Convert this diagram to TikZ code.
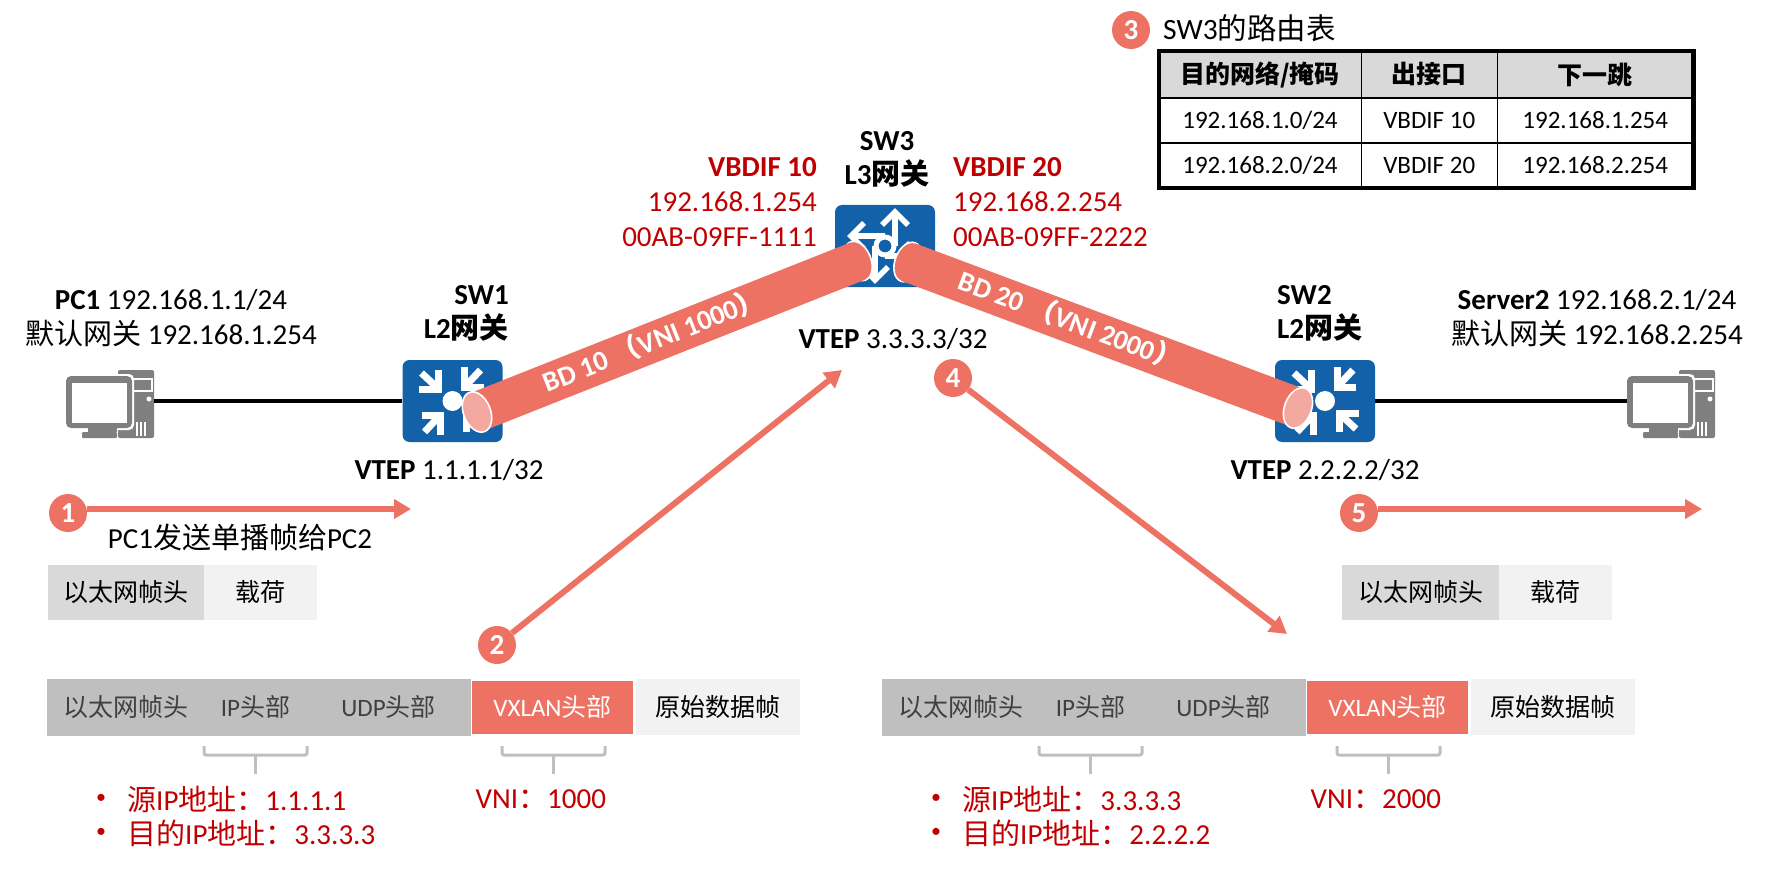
\documentclass[tikz,border=0pt]{standalone}
\usepackage{fontspec}
\setmainfont{Carlito}
\newfontfamily\cjk{Noto Sans CJK SC}
\usepackage{xcolor}
\usepackage{tikz}
\usetikzlibrary{arrows.meta, positioning, shapes.geometric}

\newcommand{\zh}[1]{{\cjk #1}}
\definecolor{salmon}{HTML}{ED7264}
\definecolor{pinkend}{HTML}{F4A9A0}
\definecolor{boxblue}{HTML}{1361A9}
\definecolor{darkred}{HTML}{C00000}
\definecolor{pcgray}{HTML}{7F7F7F}

\tikzset{
  swarrow/.pic={
    \draw[white, line width=7, line join=miter] (-14,-31) -- (-14,-12) -- (-34,-12);
    \draw[white, line width=7] (-31,-28) -- (-16,-14);
  },
  rtarrow/.pic={
    \draw[white, line width=5.5, line join=miter] (-3,-21) -- (10,-34) -- (23,-21);
    \draw[white, line width=5.5] (10,-34) -- (10,0);
  },
  switchicon/.pic={
    \pic {swarrow};
    \pic[rotate=90] {swarrow};
    \pic[rotate=180] {swarrow};
    \pic[rotate=270] {swarrow};
    \fill[white] (0,0) circle (10);
  },
  routericon/.pic={
    \pic {rtarrow};
    \pic[rotate=90] {rtarrow};
    \pic[rotate=180] {rtarrow};
    \pic[rotate=270] {rtarrow};
    \draw[white, line width=5, fill=boxblue] (0,0) circle (9);
  },
  pcicon/.pic={
    \fill[pcgray, rounded corners=2] (8,-31) rectangle (44,37);
    \draw[white, line width=1.5] (23,-22) rectangle (42,-10);
    \fill[white] (39,-2) circle (2.5);
    \draw[white, line width=1.5] (27,21) -- (27,35) (31,21) -- (31,35) (35,21) -- (35,35);
    \fill[white, rounded corners=5] (-46,-27) rectangle (24,29);
    \fill[pcgray, rounded corners=5] (-44,-25) rectangle (22,27);
    \fill[white] (-38,-18) rectangle (17,22);
    \fill[pcgray] (-22,27) rectangle (7,31);
    \fill[pcgray, rounded corners=1] (-28,31) rectangle (7,37);
  }
}

\begin{document}
\begin{tikzpicture}[
    x=1pt, y=-1pt,
    netbox/.style={rectangle, fill=boxblue, rounded corners=7, minimum width=100, minimum height=82, inner sep=0},
    pcbox/.style={rectangle, minimum width=88, minimum height=68, inner sep=0},
    label/.style={font=\fontsize{29}{35}\selectfont, align=center, inner sep=0},
    redlabel/.style={label, text=darkred},
    tube/.style={salmon, line width=40},
    tubecap/.style={ellipse, fill=salmon, draw=white, line width=1.6, minimum width=26, minimum height=41, inner sep=0},
    tubeend/.style={ellipse, fill=pinkend, draw=white, line width=1.6, minimum width=27, minimum height=42, inner sep=0},
    tubetext/.style={font=\fontsize{28}{28}\selectfont\bfseries, text=white, inner sep=0, sloped},
    flow/.style={salmon, line width=6, -{Triangle[length=17, width=19]}},
    stepdot/.style={circle, fill=salmon, text=white, font=\fontsize{29}{29}\selectfont\bfseries, minimum size=38, inner sep=0},
    field/.style={rectangle, minimum height=56, inner sep=0, font=\fontsize{25}{25}\selectfont, outer sep=0},
    grayfield/.style={field, fill=black!25, draw=black!25, line width=.3, text=black!75},
    hotfield/.style={field, fill=salmon, text=white, minimum height=53},
    lightfield/.style={field, fill=black!5},
    brace/.style={black!25, line width=3, rounded corners=2},
    dotmark/.style={redlabel, font=\fontsize{20}{20}\selectfont},
    cell/.style={rectangle, draw, line width=1.5, outer sep=0, inner sep=0, minimum height=45, font=\fontsize{25}{25}\selectfont},
    headcell/.style={cell, fill=black!15, minimum height=47, font=\fontsize{25}{25}\selectfont\bfseries}
  ]
    \useasboundingbox (0,0) rectangle (1770,869);

    % 终端与交换机
    \node[pcbox] (pc1) at (110,401) {};
    \node[pcbox] (server2) at (1671,401) {};
    \node[netbox] (sw1) at (452.5,401) {};
    \node[netbox] (sw2) at (1325,401) {};
    \node[netbox] (sw3) at (885,246) {};
    \pic at (pc1) {pcicon};
    \pic at (server2) {pcicon};
    \pic at (sw1) {switchicon};
    \pic at (sw2) {switchicon};
    \pic at (sw3) {routericon};

    \draw[line width=3.5] (pc1.east) -- (sw1.west);
    \draw[line width=3.5] (sw2.east) -- (server2.west);

    % VXLAN隧道
    \node[tubecap, rotate=21.6] (capten) at (858,261) {};
    \node[tubecap, rotate=-20.5] (captwenty) at (908,262) {};
    \coordinate (endten) at (477,412);
    \coordinate (endtwenty) at (1298,408);
    \draw[tube] (endten) -- node[tubetext, pos=.465, yshift=2.5pt] (bdten) {BD 10 \zh{（}VNI 1000\zh{）}} (capten.center);
    \draw[tube] (captwenty.center) -- node[tubetext, pos=.415, yshift=2.5pt] (bdtwenty) {BD 20 \zh{（}VNI 2000\zh{）}} (endtwenty);
    \node[tubeend, rotate=21.6] (pinkten) at (endten) {};
    \node[tubeend, rotate=-20.5] (pinktwenty) at (endtwenty) {};

    % 设备标注
    \node[label] (pc1text) at (171,318.5) {\textbf{PC1} 192.168.1.1/24\\\zh{默认网关} 192.168.1.254};
    \node[label] (server2text) at (1597,318.5) {\textbf{Server2} 192.168.2.1/24\\\zh{默认网关} 192.168.2.254};
    \node[label, align=right, anchor=east, font=\fontsize{29}{34}\selectfont\bfseries] (sw1text) at (509,313) {SW1\\L2\zh{网关}};
    \node[label, align=left, anchor=west, font=\fontsize{29}{34}\selectfont\bfseries] (sw2text) at (1277,313) {SW2\\L2\zh{网关}};
    \node[label, font=\fontsize{29}{34}\selectfont\bfseries] (sw3text) at (887,159) {SW3\\L3\zh{网关}};
    \node[label] (vtepone) at (449,470) {\textbf{VTEP} 1.1.1.1/32};
    \node[label] (vteptwo) at (1325,470) {\textbf{VTEP} 2.2.2.2/32};
    \node[label] (vtepthree) at (893,339) {\textbf{VTEP} 3.3.3.3/32};
    \node[redlabel, align=right, anchor=east] (vbdifa) at (817,202) {\textbf{VBDIF 10}\\192.168.1.254\\00AB-09FF-1111};
    \node[redlabel, align=left, anchor=west] (vbdifb) at (953,202) {\textbf{VBDIF 20}\\192.168.2.254\\00AB-09FF-2222};

    % 步骤与箭头
    \coordinate (tipone) at (411,509);
    \coordinate (tiptwo) at (842,370);
    \coordinate (tipfour) at (1287,634);
    \coordinate (tipfive) at (1702,509);
    \node[stepdot] (stepone) at (68,513) {1};
    \node[stepdot] (steptwo) at (497,645) {2};
    \node[stepdot] (stepthree) at (1131,30) {3};
    \node[stepdot] (stepfour) at (953,378) {4};
    \node[stepdot] (stepfive) at (1359,513) {5};
    \draw[flow] (stepone.east |- tipone) -- (tipone);
    \draw[flow] (steptwo) -- (tiptwo);
    \draw[flow] (stepfour) -- (tipfour);
    \draw[flow] (stepfive.east |- tipfive) -- (tipfive);
    \node[label] (sendtext) at (240,537) {PC1\zh{发送单播帧给}PC2};

    % 路由表
    \node[label, anchor=west, font=\fontsize{29.5}{35}\selectfont] (tabletitle) at (1163,28) {SW3\zh{的路由表}};
    \node[headcell, minimum width=202.5] (hdest) at (1260,74.5) {\zh{目的网络/掩码}};
    \node[headcell, minimum width=136, right=0pt of hdest] (hport) {\zh{出接口}};
    \node[headcell, minimum width=196, right=0pt of hport] (hnext) {\zh{下一跳}};
    \node[cell, minimum width=202.5, below=0pt of hdest] (desta) {192.168.1.0/24};
    \node[cell, minimum width=136, right=0pt of desta] (porta) {VBDIF 10};
    \node[cell, minimum width=196, right=0pt of porta] (nexta) {192.168.1.254};
    \node[cell, minimum width=202.5, below=0pt of desta] (destb) {192.168.2.0/24};
    \node[cell, minimum width=136, right=0pt of destb] (portb) {VBDIF 20};
    \node[cell, minimum width=196, right=0pt of portb] (nextb) {192.168.2.254};
    \draw[line width=4.5] (hdest.north west) rectangle (nextb.south east);

    % 原始帧
    \node[field, fill=black!15, minimum width=156, minimum height=55] (etha) at (126,592.5) {\zh{以太网帧头}};
    \node[field, fill=black!5, minimum width=113, minimum height=55, right=0pt of etha] (loada) {\zh{载荷}};
    \node[field, fill=black!15, minimum width=157, minimum height=55] (ethb) at (1420.5,592.5) {\zh{以太网帧头}};
    \node[field, fill=black!5, minimum width=113, minimum height=55, right=0pt of ethb] (loadb) {\zh{载荷}};

    % 封装后的报文（左）
    \node[grayfield, minimum width=157] (outethl) at (125.5,707) {\zh{以太网帧头}};
    \node[grayfield, minimum width=103, right=0pt of outethl] (outipl) {IP\zh{头部}};
    \node[grayfield, minimum width=163, right=0pt of outipl] (outudpl) {UDP\zh{头部}};
    \node[hotfield, minimum width=161, right=2pt of outudpl] (vxlanl) {VXLAN\zh{头部}};
    \node[lightfield, minimum width=164, right=3pt of vxlanl] (innerl) {\zh{原始数据帧}};
    \draw[brace] (204,746) |- (307,755) -- (307,746);
    \draw[brace] (255.5,755) -- (255.5,774);
    \draw[brace] (502,746) |- (605,755) -- (605,746);
    \draw[brace] (553.5,755) -- (553.5,774);
    \node[dotmark] (dotal) at (101,799) {•};
    \node[dotmark] (dotbl) at (101,833) {•};
    \node[redlabel, anchor=west] (srcl) at (127,799) {\zh{源}IP\zh{地址：}1.1.1.1};
    \node[redlabel, anchor=west] (dstl) at (127,833) {\zh{目的}IP\zh{地址：}3.3.3.3};
    \node[redlabel, anchor=west] (vnil) at (475.5,799) {VNI\zh{：}1000};

    % 封装后的报文（右）
    \node[grayfield, minimum width=157] (outethr) at (960.5,707) {\zh{以太网帧头}};
    \node[grayfield, minimum width=103, right=0pt of outethr] (outipr) {IP\zh{头部}};
    \node[grayfield, minimum width=163, right=0pt of outipr] (outudpr) {UDP\zh{头部}};
    \node[hotfield, minimum width=161, right=2pt of outudpr] (vxlanr) {VXLAN\zh{头部}};
    \node[lightfield, minimum width=164, right=3pt of vxlanr] (innerr) {\zh{原始数据帧}};
    \draw[brace] (1039,746) |- (1142,755) -- (1142,746);
    \draw[brace] (1090.5,755) -- (1090.5,774);
    \draw[brace] (1337,746) |- (1440,755) -- (1440,746);
    \draw[brace] (1388.5,755) -- (1388.5,774);
    \node[dotmark] (dotar) at (936,799) {•};
    \node[dotmark] (dotbr) at (936,833) {•};
    \node[redlabel, anchor=west] (srcr) at (962,799) {\zh{源}IP\zh{地址：}3.3.3.3};
    \node[redlabel, anchor=west] (dstr) at (962,833) {\zh{目的}IP\zh{地址：}2.2.2.2};
    \node[redlabel, anchor=west] (vnir) at (1310.5,799) {VNI\zh{：}2000};

  \end{tikzpicture}
\end{document}
